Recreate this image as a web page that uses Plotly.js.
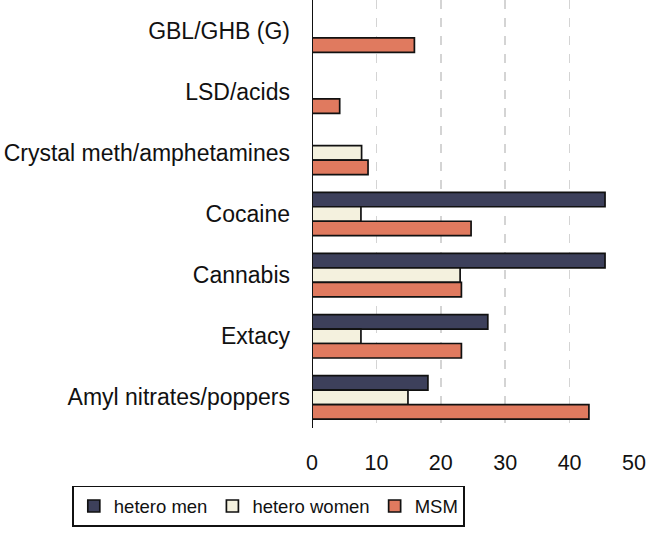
<!DOCTYPE html>
<html>
<head>
<meta charset="utf-8">
<script src="https://cdn.plot.ly/plotly-3.0.1.min.js"></script>
<style>
  html, body { margin: 0; padding: 0; background: #fff; }
  #chart { width: 646px; height: 533px; }
</style>
</head>
<body>
<div id="chart"></div>
<script>
// drug categories, top to bottom
const drugs = [
    "GBL/GHB (G)",
    "LSD/acids",
    "Crystal meth/amphetamines",
    "Cocaine",
    "Cannabis",
    "Extacy",
    "Amyl nitrates/poppers"
];

// percentages (null = no bar)
const heteroMen = [null, null, null, 45.5, 45.5, 27.3, 18.0];
const heteroWomen = [null, null, 7.7, 7.6, 23.0, 7.6, 14.9];
const msm = [15.9, 4.3, 8.7, 24.7, 23.2, 23.2, 43.0];

const xTicks = [0, 10, 20, 30, 40, 50];

function barTrace(name, values, color) {
    return {
        type: 'bar',
        orientation: 'h',
        name: name,
        x: values,
        y: drugs,
        marker: {
            color: color,
            line: { color: '#111111', width: 1.7 }
        },
        hoverinfo: 'x+name'
    };
}

const data = [
    barTrace('hetero men', heteroMen, '#3d405b'),
    barTrace('hetero women', heteroWomen, '#f4f1de'),
    barTrace('MSM', msm, '#e07a5f')
];

const layout = {
    width: 646,
    height: 533,
    margin: { l: 312, r: 12, t: 0, b: 105 },
    paper_bgcolor: '#ffffff',
    plot_bgcolor: '#ffffff',
    font: { family: 'Liberation Sans, Arial, sans-serif', color: '#111111', size: 22 },
    barmode: 'group',
    bargap: 0.29,
    bargroupgap: 0,
    showlegend: true,
    xaxis: {
        range: [0, 50],
        tickvals: xTicks,
        ticks: '',
        ticklabelstandoff: 19,
        showgrid: true,
        gridcolor: '#d4d4d4',
        gridwidth: 1.6,
        griddash: 'dash',
        zeroline: false,
        showline: false,
        tickfont: { size: 21.5 }
    },
    yaxis: {
        autorange: 'reversed',
        ticks: '',
        ticklabelstandoff: 21,
        showgrid: false,
        zeroline: false,
        showline: false,
        tickfont: { size: 23 }
    },
    shapes: [{
        type: 'line',
        xref: 'x', yref: 'paper',
        x0: 0, x1: 0, y0: 0, y1: 1,
        line: { color: '#111111', width: 2 }
    }],
    legend: {
        orientation: 'h',
        x: -0.745, y: -0.135,
        xanchor: 'left', yanchor: 'top',
        bordercolor: '#111111',
        borderwidth: 1.7,
        font: { size: 18.5 },
        traceorder: 'normal',
        itemwidth: 30
    }
};

Plotly.newPlot('chart', data, layout, { displayModeBar: false, staticPlot: true });
</script>
</body>
</html>
